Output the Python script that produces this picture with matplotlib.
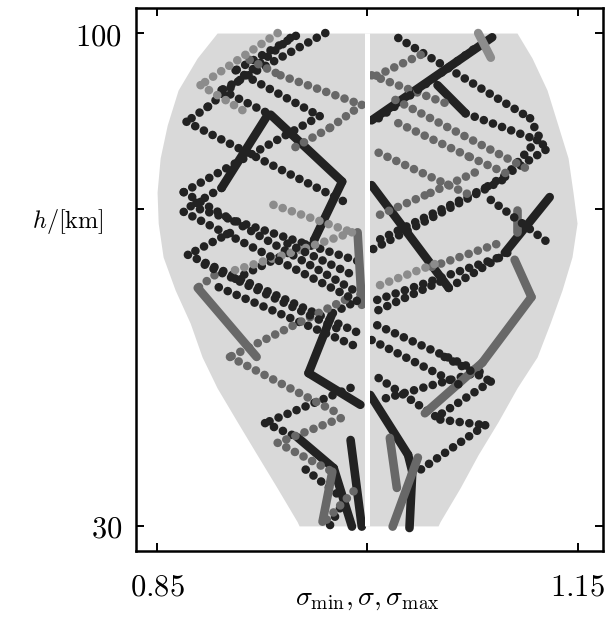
import matplotlib
matplotlib.use("Agg")
import matplotlib.pyplot as plt

plt.rcParams["mathtext.fontset"] = "cm"
plt.rcParams["font.family"] = "serif"
plt.rcParams["font.serif"] = ["DejaVu Serif"]

# envelope sigma_min / sigma_max against height
env_h = [100, 96.45, 91.9, 86.9, 82.25, 77.4, 73.0, 68.2, 63.5, 58.8, 54.0, 49.6, 44.8, 40.1, 35.4, 30.6, 30]
env_lo = [0.8928, 0.8786, 0.8650, 0.8572, 0.8522, 0.8500, 0.8508, 0.8543, 0.8629, 0.8736, 0.8821,
          0.8928, 0.9071, 0.9213, 0.9356, 0.9499, 0.9513]
env_hi = [1.1067, 1.1174, 1.1281, 1.1359, 1.1431, 1.1466, 1.1495, 1.1459, 1.1388, 1.1303, 1.1210,
          1.1067, 1.0932, 1.0789, 1.0661, 1.0518, 1.0504]

DARK = "#222222"
MID = "#686868"
LIGHT = "#8c8c8c"
S = 1.12  # dot gap (sparse segment), 0 = dense segment

# sample profiles sigma(h): vertices + per-segment dot gap
a_sig = [0.970, 0.896, 0.931, 0.982, 0.962, 0.902]
a_h = [100.0, 91.9, 88.4, 78.9, 70.6, 64.7]
a_gap = [S, S, 0, 0, S]
b_sig = [0.949, 0.906, 0.966, 0.869, 0.997]
b_h = [99.6, 94.7, 88.2, 77.4, 62.7]
b_gap = [S, S, S, S]
c_sig = [0.929, 0.896, 0.874, 0.995]
c_h = [88.4, 78.0, 75.4, 67.5]
c_gap = [0, S, S]
d_sig = [0.945, 0.886, 0.871, 0.988]
d_h = [99.3, 89.5, 87.4, 75.6]
d_gap = [S, S, S]
e_sig = [0.902, 0.872, 0.997]
e_h = [71.6, 68.5, 57.1]
e_gap = [S, S]
f_sig = [0.894, 0.993]
f_h = [63.9, 55.4]
f_gap = [S]
g_sig = [0.994, 0.975, 0.958, 0.995]
g_h = [62.1, 60.2, 51.7, 47.2]
g_gap = [S, 0, 0]
h_sig = [0.988, 0.927, 0.950, 0.976, 0.989]
h_h = [49.6, 44.6, 42.6, 38.2, 29.9]
h_gap = [S, S, 0, 0]
i_sig = [0.988, 0.996]
i_h = [42.2, 29.9]
i_gap = [0]
j_sig = [0.956, 0.984, 0.973]
j_h = [38.0, 33.7, 30.0]
j_gap = [S, S]
k_sig = [0.916, 0.938, 0.996, 0.973, 0.945]
k_h = [96.2, 94.0, 89.8, 86.5, 83.4]
k_gap = [S, S, S, S]
l_sig = [0.993, 0.996]
l_h = [71.7, 61.4]
l_gap = [0]
m_sig = [0.891, 0.879, 0.921]
m_h = [65.6, 63.8, 54.0]
m_gap = [S, 0]
n_sig = [0.984, 0.902, 0.981]
n_h = [62.1, 54.0, 45.8]
n_gap = [S, S]
o_sig = [0.981, 0.936, 0.975, 0.968]
o_h = [45.3, 41.8, 37.7, 30.6]
o_gap = [S, S, 0]
p_sig = [0.933, 0.989, 0.952, 0.902]
p_h = [75.6, 71.7, 69.2, 66.1]
p_gap = [S, S, S]
q_sig = [0.936, 0.881, 0.913]
q_h = [100.0, 92.6, 88.8]
q_gap = [S, S]
s_sig = [0.869, 0.995]
s_h = [74.6, 61.7]
s_gap = [S]
t_sig = [0.884, 0.981]
t_h = [67.1, 57.8]
t_gap = [S]
u_sig = [0.971, 0.991]
u_h = [30.9, 35.1]
u_gap = [S]
v_sig = [0.943, 0.992]
v_h = [70.1, 65.4]
v_gap = [S]

r1_sig = [1.003, 1.089]
r1_h = [87.6, 99.4]
r1_gap = [0]
r1b_sig = [1.079, 1.088]
r1b_h = [100.0, 96.5]
r1b_gap = [0]
r2_sig = [1.050, 1.070, 1.121, 1.096, 1.003]
r2_h = [92.6, 88.6, 84.8, 79.1, 69.2]
r2_gap = [0, S, S, S]
r3_sig = [1.022, 1.116, 1.127, 1.084, 1.008]
r3_h = [99.3, 87.9, 83.4, 78.0, 70.6]
r3_gap = [S, S, S, S]
r4_sig = [1.003, 1.058, 1.100]
r4_h = [78.4, 63.8, 68.8]
r4_gap = [0, S]
r5_sig = [1.098, 1.130]
r5_h = [68.8, 76.7]
r5_gap = [0]
r6_sig = [1.052, 1.003]
r6_h = [64.7, 60.2]
r6_gap = [S]
r7_sig = [1.007, 1.080, 1.009]
r7_h = [58.5, 51.9, 47.9]
r7_gap = [S, S]
r8_sig = [1.002, 1.029, 1.032, 1.030]
r8_h = [48.6, 40.1, 37.7, 29.7]
r8_gap = [0, 0, 0]
r9_sig = [1.008, 1.052, 1.084, 1.038]
r9_h = [51.0, 45.1, 44.3, 38.0]
r9_gap = [S, S, S]
r10_sig = [1.105, 1.117, 1.082, 1.041]
r10_h = [67.8, 62.5, 53.2, 46.0]
r10_gap = [0, 0, 0]
r11_sig = [1.036, 1.018]
r11_h = [39.7, 29.9]
r11_gap = [0]
r12_sig = [1.016, 1.021]
r12_h = [42.5, 35.4]
r12_gap = [0]
r13_sig = [1.107, 1.107]
r13_h = [74.9, 71.7]
r13_gap = [0]
r14_sig = [1.022, 1.073, 1.102]
r14_h = [87.2, 82.4, 79.8]
r14_gap = [S, S]
r15_sig = [1.008, 1.073]
r15_h = [83.0, 77.0]
r15_gap = [S]
r16_sig = [1.003, 1.059]
r16_h = [94.0, 89.8]
r16_gap = [S]
r17_sig = [1.009, 1.045, 1.080]
r17_h = [74.2, 77.3, 80.5]
r17_gap = [S, S]
r18_sig = [1.046, 1.096]
r18_h = [66.8, 70.3]
r18_gap = [S]
r19_sig = [1.003, 1.066]
r19_h = [56.4, 50.0]
r19_gap = [S]
r20_sig = [1.008, 1.080]
r20_h = [87.9, 98.3]
r20_gap = [S]
r21_sig = [1.020, 1.116]
r21_h = [90.5, 80.5]
r21_gap = [S]
r22_sig = [1.038, 1.003]
r22_h = [96.9, 93.6]
r22_gap = [S]
r24_sig = [1.088, 1.129]
r24_h = [76.3, 70.2]
r24_gap = [S]
r25_sig = [1.055, 1.088, 1.048]
r25_h = [54.0, 50.5, 45.3]
r25_gap = [S, S]
r26_sig = [1.009, 1.052]
r26_h = [64.2, 67.5]
r26_gap = [S]
r27_sig = [1.007, 1.095]
r27_h = [62.1, 68.2]
r27_gap = [S]

paths = [
    (a_sig, a_h, a_gap, DARK), (b_sig, b_h, b_gap, DARK), (c_sig, c_h, c_gap, DARK),
    (d_sig, d_h, d_gap, DARK), (e_sig, e_h, e_gap, DARK), (f_sig, f_h, f_gap, DARK),
    (g_sig, g_h, g_gap, DARK), (h_sig, h_h, h_gap, DARK), (i_sig, i_h, i_gap, DARK),
    (j_sig, j_h, j_gap, DARK), (k_sig, k_h, k_gap, MID), (l_sig, l_h, l_gap, MID),
    (m_sig, m_h, m_gap, MID), (n_sig, n_h, n_gap, MID), (o_sig, o_h, o_gap, MID),
    (p_sig, p_h, p_gap, LIGHT), (q_sig, q_h, q_gap, LIGHT), (s_sig, s_h, s_gap, DARK),
    (t_sig, t_h, t_gap, DARK), (u_sig, u_h, u_gap, MID), (v_sig, v_h, v_gap, DARK),
    (r1_sig, r1_h, r1_gap, DARK), (r1b_sig, r1b_h, r1b_gap, LIGHT), (r2_sig, r2_h, r2_gap, DARK),
    (r3_sig, r3_h, r3_gap, DARK), (r4_sig, r4_h, r4_gap, DARK), (r5_sig, r5_h, r5_gap, DARK),
    (r6_sig, r6_h, r6_gap, DARK), (r7_sig, r7_h, r7_gap, DARK), (r8_sig, r8_h, r8_gap, DARK),
    (r9_sig, r9_h, r9_gap, DARK), (r10_sig, r10_h, r10_gap, MID), (r11_sig, r11_h, r11_gap, MID),
    (r12_sig, r12_h, r12_gap, MID), (r13_sig, r13_h, r13_gap, MID), (r14_sig, r14_h, r14_gap, MID),
    (r15_sig, r15_h, r15_gap, MID), (r16_sig, r16_h, r16_gap, MID), (r17_sig, r17_h, r17_gap, MID),
    (r18_sig, r18_h, r18_gap, MID), (r19_sig, r19_h, r19_gap, DARK), (r20_sig, r20_h, r20_gap, DARK),
    (r21_sig, r21_h, r21_gap, MID), (r22_sig, r22_h, r22_gap, MID), (r24_sig, r24_h, r24_gap, DARK),
    (r25_sig, r25_h, r25_gap, DARK), (r26_sig, r26_h, r26_gap, LIGHT), (r27_sig, r27_h, r27_gap, DARK),
]

fig = plt.figure(figsize=(6.10, 6.19), dpi=100)
ax = fig.add_axes([0.223, 0.110, 0.7655, 0.877])

ax.fill_betweenx(env_h, env_lo, env_hi, color="#d9d9d9", lw=0, zorder=1)

lw = 6.2
for sig, hh, gaps, col in paths:
    for i in range(len(gaps)):
        if gaps[i] == 0:
            ax.plot(sig[i:i + 2], hh[i:i + 2], color=col, lw=lw, solid_capstyle="round", zorder=3)
        else:
            ax.plot(sig[i:i + 2], hh[i:i + 2], color=col, lw=lw, linestyle=(0, (0.01, gaps[i])),
                    dash_capstyle="round", zorder=3)

ax.vlines(1.0, 30, 100, color="white", lw=3.6, zorder=4)

ax.set_xlim(0.835, 1.168)
ax.set_ylim(26.45, 103.55)
ax.set_xticks([0.85, 1.0, 1.15])
ax.set_xticklabels([r"$0.85$", "", r"$1.15$"])
ax.set_yticks([30, 75, 100])
ax.set_yticklabels([r"$30$", "", r"$100$"])
ax.tick_params(direction="in", top=True, right=True, length=6, width=1.4, labelsize=22)
ax.tick_params(axis="x", pad=15)
ax.tick_params(axis="y", pad=10)
for sp in ax.spines.values():
    sp.set_linewidth(1.8)

fig.text(367 / 610, 1 - 598 / 619, r"$\sigma_{\min},\sigma,\sigma_{\max}$", fontsize=20,
         ha="center", va="center")
fig.text(68 / 610, 1 - 221 / 619, r"$h/[\mathrm{km}]$", fontsize=17.5, ha="center", va="center")

fig.savefig("out.png", dpi=100)
